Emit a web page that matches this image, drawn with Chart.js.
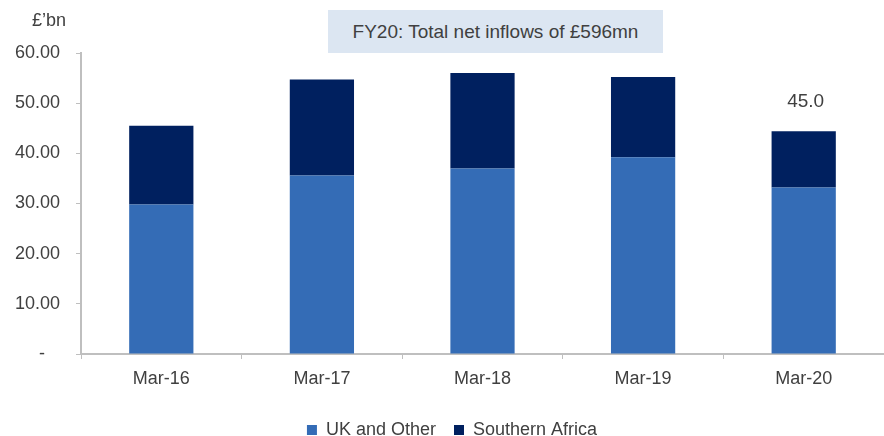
<!DOCTYPE html>
<html>
<head>
<meta charset="utf-8">
<script src="https://cdn.jsdelivr.net/npm/chart.js@4.4.1/dist/chart.umd.min.js"></script>
<style>
  html, body { margin:0; padding:0; background:#fff; overflow:hidden; width:884px; height:436px; }
  #wrap { position:absolute; left:0; top:0; width:884px; height:449px; }
  #titlebox { position:absolute; left:328px; top:10px; width:335px; height:43px; background:#dce6f2;
    font-family:"Liberation Sans", Arial, sans-serif; font-size:19px; color:#404040;
    display:flex; align-items:center; justify-content:center; }
  #unit { position:absolute; left:32px; top:10px; font-family:"Liberation Sans", Arial, sans-serif;
    font-size:18px; color:#404040; }
</style>
</head>
<body>
<div id="wrap"><canvas id="c" width="884" height="449"></canvas></div>
<div id="titlebox">FY20: Total net inflows of £596mn</div>
<div id="unit">£’bn</div>
<script>
const categories = ['Mar-16', 'Mar-17', 'Mar-18', 'Mar-19', 'Mar-20'];
const ukAndOther = [29.8, 35.6, 37.0, 39.2, 33.2];
const southernAfrica = [15.7, 19.1, 19.0, 16.0, 11.2];
const totalLabels = ['', '', '', '', '45.0'];
const yTicks = [0, 10, 20, 30, 40, 50, 60];

const FONT = '"Liberation Sans", Arial, sans-serif';
const TXT = '#404040';
const AXIS = '#bfbfbf';

const totalLabelPlugin = {
  id: 'totalLabel',
  afterLayout(chart) {
    if (chart.legend) { chart.legend.left += 10; chart.legend.right += 10; }
  },
  afterDatasetsDraw(chart) {
    const ctx = chart.ctx;
    const xs = chart.scales.x, ys = chart.scales.y;
    ctx.save();
    ctx.font = '19px ' + FONT;
    ctx.fillStyle = TXT;
    ctx.textAlign = 'center';
    ctx.textBaseline = 'middle';
    totalLabels.forEach((t, i) => {
      if (!t) return;
      const total = ukAndOther[i] + southernAfrica[i];
      ctx.fillText(t, xs.getPixelForValue(i) + 2, ys.getPixelForValue(total) - 29);
    });
    ctx.restore();
  }
};

new Chart(document.getElementById('c'), {
  type: 'bar',
  data: {
    labels: categories,
    datasets: [
      { label: 'UK and Other', data: ukAndOther, backgroundColor: '#346cb6', borderWidth: 0 },
      { label: 'Southern Africa', data: southernAfrica, backgroundColor: '#00205f', borderWidth: 0 }
    ]
  },
  options: {
    responsive: false,
    animation: false,
    devicePixelRatio: 1,
    layout: { padding: { left: 0, right: 0, top: 53, bottom: 0 } },
    datasets: { bar: { categoryPercentage: 1.0, barPercentage: 0.4 } },
    plugins: {
      tooltip: { enabled: false },
      legend: {
        position: 'bottom',
        labels: { boxWidth: 10, boxHeight: 10, padding: 18, color: TXT, font: { family: FONT, size: 18 } }
      }
    },
    scales: {
      x: {
        stacked: true,
        grid: { drawOnChartArea: false, offset: true, tickLength: 5, color: AXIS },
        border: { color: AXIS, width: 2 },
        ticks: { color: TXT, padding: 9, font: { family: FONT, size: 18 } },
        afterFit(s) { s.height = 49; }
      },
      y: {
        stacked: true,
        min: 0, max: 60,
        afterBuildTicks(s) { s.ticks = yTicks.map(v => ({ value: v })); },
        grid: { drawOnChartArea: false, tickLength: 5, color: AXIS },
        border: { color: AXIS, width: 2 },
        ticks: {
          color: TXT, padding: 16, font: { family: FONT, size: 18 },
          callback: v => v === 0 ? '-   ' : v.toFixed(2)
        },
        afterFit(s) { s.width = 81; }
      }
    }
  },
  plugins: [totalLabelPlugin]
});
</script>
</body>
</html>
